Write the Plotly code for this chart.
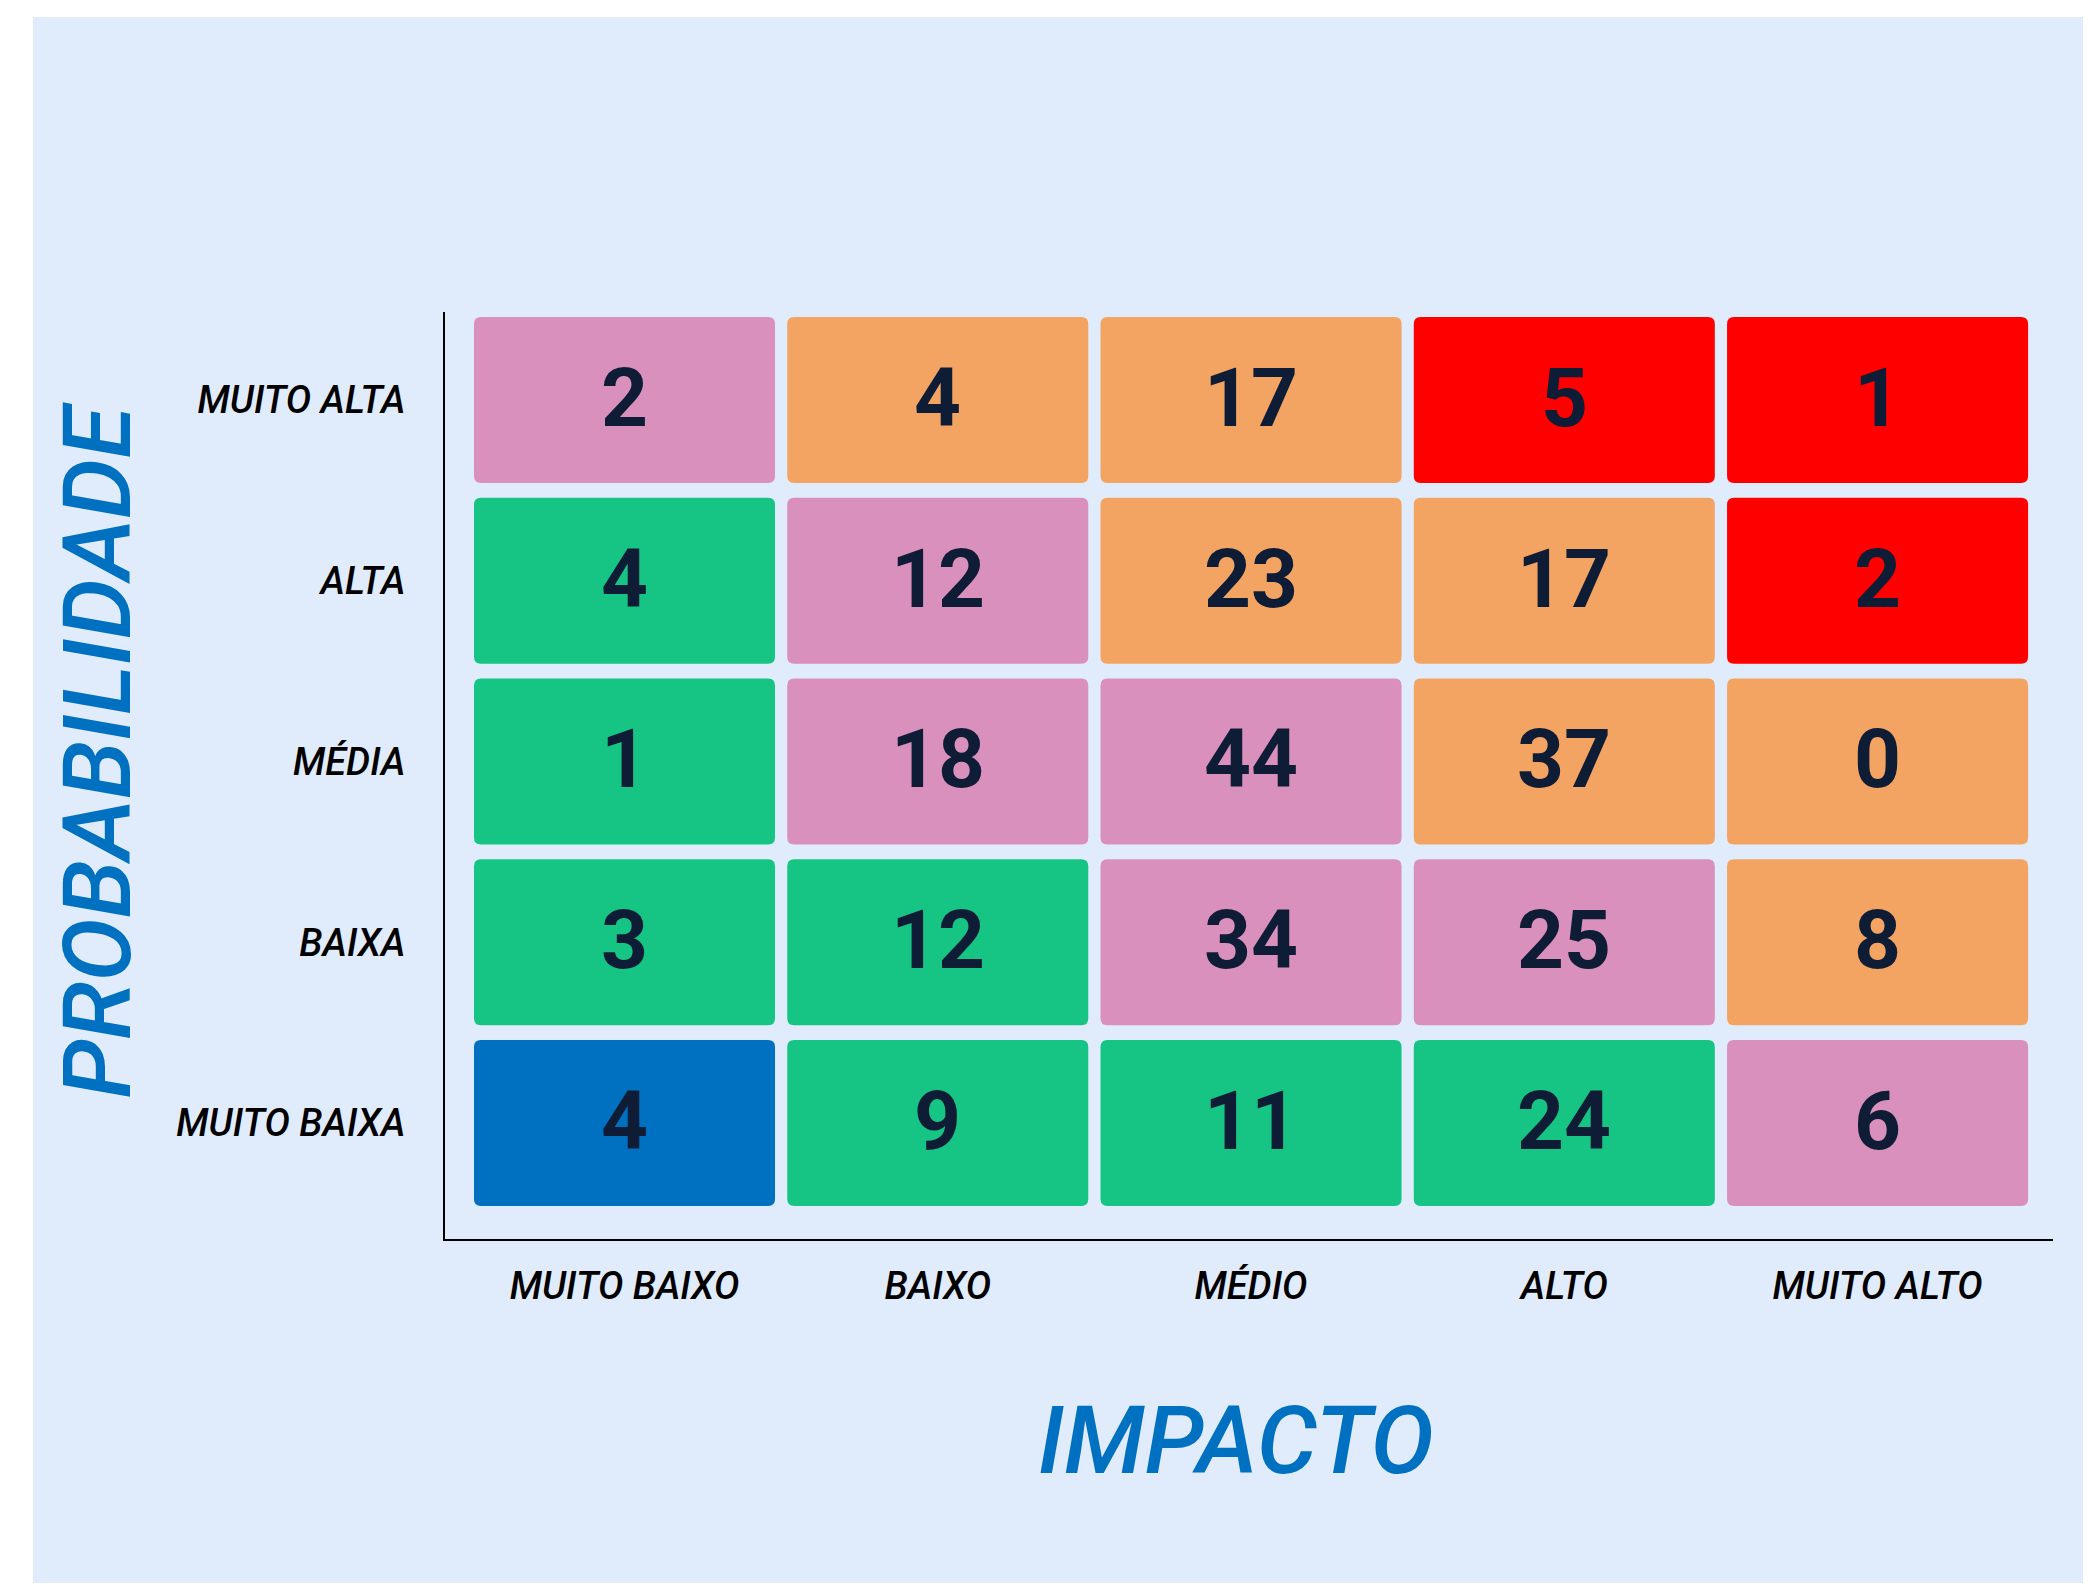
import plotly.graph_objects as go

# ---- data ----
impacto = ["MUITO BAIXO", "BAIXO", "MÉDIO", "ALTO", "MUITO ALTO"]
probabilidade = ["MUITO BAIXA", "BAIXA", "MÉDIA", "ALTA", "MUITO ALTA"]  # bottom -> top

# counts, rows bottom -> top
contagens = [
    [4, 9, 11, 24, 6],      # MUITO BAIXA
    [3, 12, 34, 25, 8],     # BAIXA
    [1, 18, 44, 37, 0],     # MÉDIA
    [4, 12, 23, 17, 2],     # ALTA
    [2, 4, 17, 5, 1],       # MUITO ALTA
]
# risk level per cell, rows bottom -> top
niveis = [
    ["muito baixo", "baixo", "baixo", "baixo", "medio"],
    ["baixo", "baixo", "medio", "medio", "alto"],
    ["baixo", "medio", "medio", "alto", "alto"],
    ["baixo", "medio", "alto", "alto", "critico"],
    ["medio", "alto", "alto", "critico", "critico"],
]
cores = {
    "muito baixo": "#0070C0",
    "baixo": "#16C484",
    "medio": "#DA90BC",
    "alto": "#F4A462",
    "critico": "#FF0000",
}

BG = "#E0ECFC"
TXT = "#0F1C35"
BLUE = "#0070C0"

fig = go.Figure()

hw, hh = 0.4805, 0.459
rx, ry = 0.022, 0.039


def rounded(x0, x1, y0, y1):
    return (f"M {x0+rx},{y0} L {x1-rx},{y0} Q {x1},{y0} {x1},{y0+ry} "
            f"L {x1},{y1-ry} Q {x1},{y1} {x1-rx},{y1} L {x0+rx},{y1} "
            f"Q {x0},{y1} {x0},{y1-ry} L {x0},{y0+ry} Q {x0},{y0} {x0+rx},{y0} Z")


shapes = [dict(type="rect", xref="paper", yref="paper",
               x0=-0.2562, x1=1.05, y0=-0.45, y1=1.3182,
               fillcolor=BG, line=dict(width=0), layer="below")]

annotations = []
for r, row in enumerate(contagens):
    for c, v in enumerate(row):
        shapes.append(dict(type="path", xref="x", yref="y",
                           path=rounded(c - hw, c + hw, r - hh, r + hh),
                           fillcolor=cores[niveis[r][c]], line=dict(width=0),
                           layer="below"))
        annotations.append(dict(
            x=c, y=r, xref="x", yref="y", text=str(v), showarrow=False,
            xanchor="center", yanchor="middle", yshift=2,
            font=dict(family="Roboto", size=82, color=TXT, weight=700)))

# invisible trace to make the axes render
fig.add_trace(go.Scatter(x=[0, 4], y=[0, 4], mode="markers",
                         marker=dict(opacity=0), hoverinfo="skip",
                         showlegend=False))

tickfont = dict(family="Roboto", size=38, color="black", style="italic", weight=500)

annotations += [
    dict(text="IMPACTO", xref="paper", yref="paper", x=0.4919, y=-0.2179,
         xanchor="center", yanchor="middle", showarrow=False,
         font=dict(family="Roboto", size=95, color=BLUE, style="italic", weight=500)),
    dict(text="PROBABILIDADE", xref="paper", yref="paper", x=-0.2167, y=0.5275,
         xanchor="center", yanchor="middle", showarrow=False, textangle=-90,
         font=dict(family="Roboto", size=95, color=BLUE, style="italic", weight=500)),
]

fig.update_layout(
    width=2075, height=1575,
    margin=dict(l=437, r=30, t=304, b=344),
    paper_bgcolor="white",
    plot_bgcolor="rgba(0,0,0,0)",
    shapes=shapes,
    showlegend=False,
    hovermode=False,
    xaxis=dict(range=[-0.573, 4.56], tickvals=list(range(5)), ticktext=impacto,
               showgrid=False, zeroline=False, showline=True, linecolor="black",
               linewidth=2, ticks="", tickfont=tickfont, ticklabelstandoff=12,
               fixedrange=True),
    yaxis=dict(range=[-0.642, 4.487], tickvals=list(range(5)), ticktext=probabilidade,
               showgrid=False, zeroline=False, showline=True, linecolor="black",
               linewidth=2, ticks="", tickfont=tickfont, ticklabelstandoff=30,
               fixedrange=True),
    annotations=annotations,
)

fig.write_html("out.html", config={"displayModeBar": False})
